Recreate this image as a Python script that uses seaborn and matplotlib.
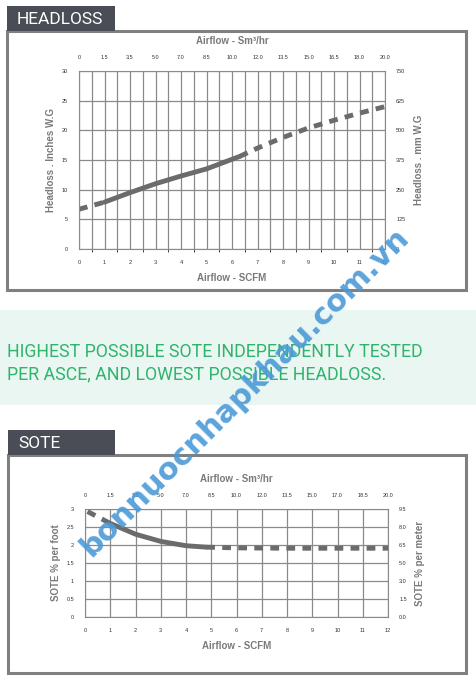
import numpy as np
import matplotlib
matplotlib.use("Agg")
import matplotlib.pyplot as plt
import seaborn as sns
from matplotlib.patches import Rectangle

# ---- data ----
scfm_ticks = list(range(13))
sm3_top_headloss = ["0", "1.5", "3.5", "5.0", "7.0", "8.5", "10.0", "12.0", "13.5", "15.0", "16.5", "18.0", "20.0"]
sm3_top_sote = ["0", "1.5", "3.5", "5.0", "7.0", "8.5", "10.0", "12.0", "13.5", "15.0", "17.0", "18.5", "20.0"]
headloss_in_ticks = [0, 5, 10, 15, 20, 25, 30]
headloss_mm_labels = ["0", "125", "250", "375", "500", "625", "750"]
sote_ft_ticks = [0, 0.5, 1, 1.5, 2, 2.5, 3]
sote_ft_labels = ["0", "0.5", "1", "1.5", "2", "2.5", "3"]
sote_m_labels = ["0.0", "1.5", "3.0", "5.0", "6.5", "8.0", "9.5"]

hl_dash1_x = [0, 1]
hl_dash1_y = [6.7, 7.9]
hl_solid_x = [1, 2, 3, 4, 5, 6.3]
hl_solid_y = [7.9, 9.5, 11.0, 12.3, 13.5, 15.6]
hl_dash2_x = [6.3, 7, 8, 9, 10, 11, 12]
hl_dash2_y = [15.6, 17.0, 18.8, 20.4, 21.7, 22.9, 24.0]

so_dash1_x = [0.1, 1]
so_dash1_y = [2.93, 2.6]
so_solid_x = [1, 2, 3, 4, 4.8]
so_solid_y = [2.6, 2.3, 2.1, 1.98, 1.94]
so_dash2_x = [4.8, 6, 8, 10, 12]
so_dash2_y = [1.94, 1.92, 1.91, 1.91, 1.91]

W, H = 476, 685
fig = plt.figure(figsize=(W / 100, H / 100), dpi=100)
sns.set_style("white")
plt.rcParams["font.family"] = ["Liberation Sans", "DejaVu Sans"]

LINE = "#6b6b6b"
GRID = "#8a8a8a"
TXT = "#7a7a7a"
TAB = "#4a4d55"


def rect(x, y, w, h):
    return [x / W, 1 - (y + h) / H, w / W, h / H]


def frame(x, y, w, h, title, tab_w):
    fig.patches.append(Rectangle((x / W, 1 - (y + h) / H), w / W, h / H, transform=fig.transFigure,
                                 fill=False, edgecolor="#808080", linewidth=2.2))
    fig.patches.append(Rectangle((x / W, 1 - y / H), tab_w / W, 25 / H, transform=fig.transFigure,
                                 facecolor=TAB, edgecolor="none"))
    fig.text((x + 10) / W, 1 - (y - 12) / H, title, color="white", fontsize=12.5,
             family="Roboto", va="center", ha="left")


def chart(pos, ylim, yticks, ylabels, rlabels, toplabels, xminor, ylabel, rlabel, segs):
    ax = fig.add_axes(rect(*pos))
    ax.set_xlim(0, 12)
    ax.set_ylim(*ylim)
    ax.set_xticks(scfm_ticks)
    ax.set_xticklabels([str(t) for t in scfm_ticks])
    ax.set_yticks(yticks)
    ax.set_yticklabels(ylabels)
    ax.set_xticks(xminor, minor=True)
    ax.grid(True, which="both", axis="x", color=GRID, linewidth=0.9)
    ax.grid(True, which="major", axis="y", color=GRID, linewidth=0.9)
    ax.tick_params(length=0, labelsize=4, pad=8, colors="#333333")
    for s in ax.spines.values():
        s.set_color(GRID)
    ax.set_xlabel("Airflow - SCFM", fontsize=7, color=TXT, fontweight="bold", labelpad=6)
    ax.set_ylabel(ylabel, fontsize=7, color=TXT, fontweight="bold", labelpad=4)
    for (xs, ys, dashed) in segs:
        if dashed:
            sns.lineplot(x=xs, y=ys, ax=ax, color=LINE, linewidth=3.5, linestyle=(0, (1.8, 1.5)), estimator=None)
        else:
            sns.lineplot(x=xs, y=ys, ax=ax, color=LINE, linewidth=3.5, estimator=None)
    ar = ax.twinx()
    ar.set_ylim(*ylim)
    ar.set_yticks(yticks)
    ar.set_yticklabels(rlabels)
    ar.tick_params(length=0, labelsize=4, pad=8, colors="#333333")
    ar.set_ylabel(rlabel, fontsize=7, color=TXT, fontweight="bold", labelpad=6)
    at = ax.twiny()
    at.set_xlim(0, 12)
    at.set_xticks(scfm_ticks)
    at.set_xticklabels(toplabels)
    at.tick_params(length=0, labelsize=4, pad=8, colors="#333333")
    at.set_xlabel("Airflow - Sm\u00b3/hr", fontsize=7, color=TXT, fontweight="bold", labelpad=8)
    for a in (ar, at):
        for s in a.spines.values():
            s.set_visible(False)
    return ax


# headloss panel
frame(7, 31, 459, 259, "HEADLOSS", 108)
chart((79, 71, 306, 178), (0, 30), headloss_in_ticks, [str(t) for t in headloss_in_ticks],
      headloss_mm_labels, sm3_top_headloss, np.arange(0, 12.5, 0.5),
      "Headloss . Inches W.G", "Headloss . mm W.G",
      [(hl_dash1_x, hl_dash1_y, True), (hl_solid_x, hl_solid_y, False), (hl_dash2_x, hl_dash2_y, True)])

# middle band
fig.patches.append(Rectangle((0, 1 - 405 / H), 1, 95 / H, transform=fig.transFigure,
                             facecolor="#eaf6f1", edgecolor="none"))
fig.text(7 / W, 1 - 352 / H, "HIGHEST POSSIBLE SOTE INDEPENDENTLY TESTED", color="#2fb36d",
         fontsize=12.8, family="Roboto", va="center")
fig.text(7 / W, 1 - 374 / H, "PER ASCE, AND LOWEST POSSIBLE HEADLOSS.", color="#2fb36d",
         fontsize=12.8, family="Roboto", va="center")

# sote panel
frame(8, 455, 458, 218, "SOTE", 107)
chart((85, 509, 303, 108), (0, 3), sote_ft_ticks, sote_ft_labels, sote_m_labels, sm3_top_sote,
      [], "SOTE % per foot", "SOTE % per meter",
      [(so_dash1_x, so_dash1_y, True), (so_solid_x, so_solid_y, False), (so_dash2_x, so_dash2_y, True)])

# watermark
fig.text(245 / W, 1 - 392 / H, "bonnuocnhapkhau.com.vn", color="#4a9ad8", fontsize=22,
         fontweight="bold", family="DejaVu Sans", rotation=45, ha="center", va="center", alpha=0.9)

fig.savefig("out.png", dpi=100)
